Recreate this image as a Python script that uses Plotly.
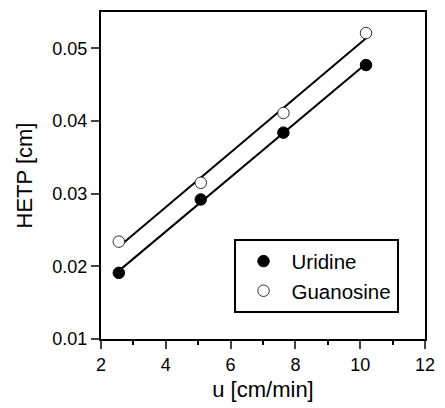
import numpy as np
import plotly.graph_objects as go

u_uridine = [2.55, 5.08, 7.63, 10.18]
hetp_uridine = [0.0191, 0.0292, 0.0384, 0.0477]
u_guanosine = [2.55, 5.08, 7.63, 10.18]
hetp_guanosine = [0.0234, 0.0315, 0.0411, 0.0521]

x_ticks = [2, 4, 6, 8, 10, 12]
y_ticks = [0.01, 0.02, 0.03, 0.04, 0.05]

FONT = "Liberation Sans, Arial, sans-serif"

fig = go.Figure()

for xs, ys in [(u_uridine, hetp_uridine), (u_guanosine, hetp_guanosine)]:
    k, b = np.polyfit(xs, ys, 1)
    xe = np.array([min(xs), max(xs)])
    fig.add_trace(go.Scatter(x=xe, y=k * xe + b, mode="lines",
                             line=dict(color="black", width=2),
                             showlegend=False, hoverinfo="skip"))

fig.add_trace(go.Scatter(x=u_uridine, y=hetp_uridine, mode="markers", name="Uridine",
                         marker=dict(symbol="circle", size=11.5, color="black",
                                     line=dict(color="black", width=1))))
fig.add_trace(go.Scatter(x=u_guanosine, y=hetp_guanosine, mode="markers", name="Guanosine",
                         marker=dict(symbol="circle", size=11.5, color="white",
                                     line=dict(color="black", width=0.8))))

fig.update_layout(
    width=445, height=408,
    margin=dict(l=101, r=12, t=10, b=67),
    paper_bgcolor="white", plot_bgcolor="white",
    font=dict(family=FONT, color="black", size=18),
    legend=dict(x=0.409, y=0.305, xanchor="left", yanchor="top",
                bordercolor="black", borderwidth=2, bgcolor="white",
                font=dict(size=20.5), itemwidth=46, tracegroupgap=0),
)
fig.update_xaxes(range=[2, 12], tickvals=x_ticks, ticks="outside", ticklen=8, tickwidth=2,
                 showline=True, linecolor="black", linewidth=2, mirror=True,
                 showgrid=False, zeroline=False,
                 minor=dict(dtick=1, ticks="outside", ticklen=4, tickwidth=2, tickcolor="black"),
                 title=dict(text="u [cm/min]", font=dict(size=22), standoff=8),
                 tickfont=dict(size=18))
fig.update_yaxes(range=[0.01, 0.055], tickvals=y_ticks, tickformat=".2f", ticks="outside",
                 ticklen=8, tickwidth=2,
                 showline=True, linecolor="black", linewidth=2, mirror=True,
                 showgrid=False, zeroline=False,
                 title=dict(text="HETP [cm]", font=dict(size=22), standoff=14),
                 tickfont=dict(size=18))

fig.write_html("out.html")
